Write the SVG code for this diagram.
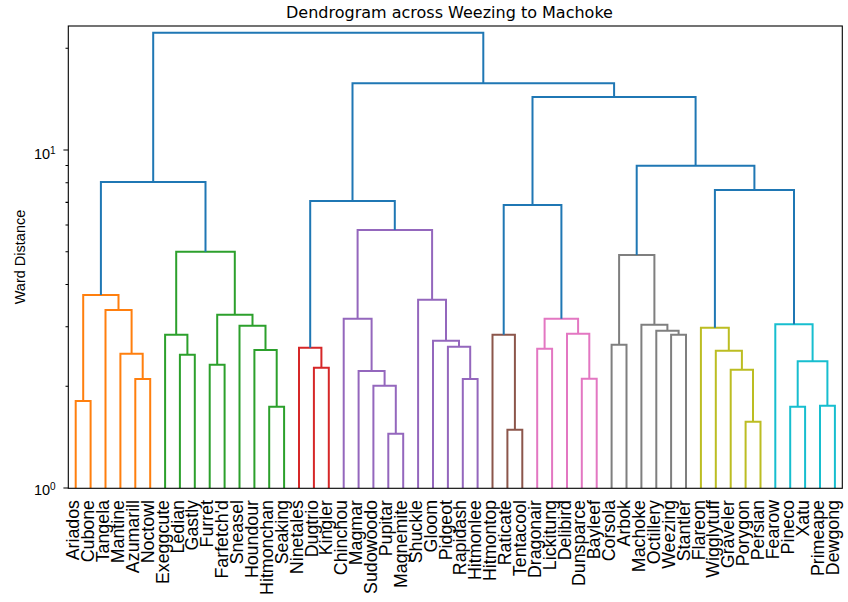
<svg xmlns="http://www.w3.org/2000/svg" width="848" height="602" viewBox="0 0 848 602">
<style>
.l{fill:none;stroke-width:2;stroke-linecap:butt;stroke-linejoin:miter}
.c0{stroke:#1f77b4}.c1{stroke:#ff7f0e}.c2{stroke:#2ca02c}.c3{stroke:#d62728}.c4{stroke:#9467bd}
.c5{stroke:#8c564b}.c6{stroke:#e377c2}.c7{stroke:#7f7f7f}.c8{stroke:#bcbd22}.c9{stroke:#17becf}
.lab{font-family:"Liberation Sans",Arial,sans-serif;font-size:17.8px;fill:#000;text-anchor:end}
.tk{stroke:#000;stroke-width:1.1}
.tl{font-family:"DejaVu Sans",sans-serif;fill:#000}
.yt{font-family:"Liberation Sans",Arial,sans-serif;fill:#000}
</style>
<rect x="0" y="0" width="848" height="602" fill="#fff"/>
<text class="tl" x="449.5" y="18.3" font-size="16" text-anchor="middle">Dendrogram across Weezing to Machoke</text>
<text transform="translate(25,257) rotate(-90)" font-family="Liberation Sans, Arial, sans-serif" font-size="14.5" text-anchor="middle">Ward Distance</text>
<g id="axes">
<path class="tk" d="M68.3,150H63.4M68.3,488H63.4M68.3,386.3H65.5M68.3,326.7H65.5M68.3,284.5H65.5M68.3,251.7H65.5M68.3,225H65.5M68.3,202.4H65.5M68.3,182.8H65.5M68.3,165.5H65.5M68.3,48.3H65.5"/>
<text class="yt" x="34" y="158.5" font-size="14.5">10</text><text class="yt" x="50" y="153.5" font-size="10">1</text>
<text class="yt" x="34" y="495.3" font-size="14.5">10</text><text class="yt" x="50" y="490.3" font-size="10">0</text>
</g>
<g id="connectors">
<path class="l c1" d="M75.7,488V401H90.6V488"/>
<path class="l c1" d="M135.3,488V379H150.2V488"/>
<path class="l c1" d="M120.4,488V353.7H142.7V379"/>
<path class="l c1" d="M105.5,488V310H131.6V353.7"/>
<path class="l c1" d="M83.2,401V295H118.5V310"/>
<path class="l c2" d="M179.9,488V354.7H194.8V488"/>
<path class="l c2" d="M165.1,488V334.7H187.4V354.7"/>
<path class="l c2" d="M209.7,488V364.7H224.6V488"/>
<path class="l c2" d="M269.2,488V406.7H284.1V488"/>
<path class="l c2" d="M254.4,488V350H276.7V406.7"/>
<path class="l c2" d="M239.5,488V325.7H265.5V350"/>
<path class="l c2" d="M217.2,364.7V314.7H252.5V325.7"/>
<path class="l c2" d="M176.2,334.7V251.7H234.8V314.7"/>
<path class="l c0" d="M100.9,295V182H205.5V251.7"/>
<path class="l c3" d="M313.9,488V367.7H328.8V488"/>
<path class="l c3" d="M299,488V347.7H321.4V367.7"/>
<path class="l c4" d="M388.3,488V433.7H403.2V488"/>
<path class="l c4" d="M373.4,488V385.7H395.8V433.7"/>
<path class="l c4" d="M358.6,488V371H384.6V385.7"/>
<path class="l c4" d="M343.7,488V318.7H371.6V371"/>
<path class="l c4" d="M462.8,488V379H477.6V488"/>
<path class="l c4" d="M447.9,488V346.7H470.2V379"/>
<path class="l c4" d="M433,488V340.7H459V346.7"/>
<path class="l c4" d="M418.1,488V299.7H446V340.7"/>
<path class="l c4" d="M357.6,318.7V230H432.1V299.7"/>
<path class="l c0" d="M310.2,347.7V201H394.8V230"/>
<path class="l c5" d="M507.4,488V429.7H522.3V488"/>
<path class="l c5" d="M492.5,488V334.7H514.9V429.7"/>
<path class="l c6" d="M537.2,488V348.7H552.1V488"/>
<path class="l c6" d="M581.8,488V378.7H596.7V488"/>
<path class="l c6" d="M567,488V333.7H589.3V378.7"/>
<path class="l c6" d="M544.6,348.7V318.7H578.1V333.7"/>
<path class="l c0" d="M503.7,334.7V205H561.4V318.7"/>
<path class="l c7" d="M611.6,488V344.7H626.5V488"/>
<path class="l c7" d="M671.1,488V334.7H686V488"/>
<path class="l c7" d="M656.3,488V330.7H678.6V334.7"/>
<path class="l c7" d="M641.4,488V324.7H667.4V330.7"/>
<path class="l c7" d="M619.1,344.7V255H654.4V324.7"/>
<path class="l c8" d="M745.6,488V421.7H760.5V488"/>
<path class="l c8" d="M730.7,488V369.7H753V421.7"/>
<path class="l c8" d="M715.8,488V350.7H741.9V369.7"/>
<path class="l c8" d="M700.9,488V327.7H728.8V350.7"/>
<path class="l c9" d="M790.2,488V406.7H805.1V488"/>
<path class="l c9" d="M820,488V405.7H834.9V488"/>
<path class="l c9" d="M797.7,406.7V361.3H827.4V405.7"/>
<path class="l c9" d="M775.3,488V324.3H812.6V361.3"/>
<path class="l c0" d="M714.9,327.7V190H794V324.3"/>
<path class="l c0" d="M636.7,255V165.7H754.4V190"/>
<path class="l c0" d="M532.5,205V97H695.6V165.7"/>
<path class="l c0" d="M352.5,201V83.3H614.1V97"/>
<path class="l c0" d="M153.2,182V32.7H483.3V83.3"/>
</g>
<rect x="68.3" y="26" width="774" height="462.3" fill="none" stroke="#000" stroke-width="1.1"/>
<g id="leaf-Ariados"><text class="lab" transform="translate(79.3,500) rotate(-90)">Ariados</text></g>
<g id="leaf-Cubone"><text class="lab" transform="translate(94.2,500) rotate(-90)">Cubone</text></g>
<g id="leaf-Tangela"><text class="lab" transform="translate(109.1,500) rotate(-90)">Tangela</text></g>
<g id="leaf-Mantine"><text class="lab" transform="translate(124,500) rotate(-90)">Mantine</text></g>
<g id="leaf-Azumarill"><text class="lab" transform="translate(138.9,500) rotate(-90)">Azumarill</text></g>
<g id="leaf-Noctowl"><text class="lab" transform="translate(153.8,500) rotate(-90)">Noctowl</text></g>
<g id="leaf-Exeggcute"><text class="lab" transform="translate(168.7,500) rotate(-90)">Exeggcute</text></g>
<g id="leaf-Ledian"><text class="lab" transform="translate(183.5,500) rotate(-90)">Ledian</text></g>
<g id="leaf-Gastly"><text class="lab" transform="translate(198.4,500) rotate(-90)">Gastly</text></g>
<g id="leaf-Furret"><text class="lab" transform="translate(213.3,500) rotate(-90)">Furret</text></g>
<g id="leaf-Farfetchd"><text class="lab" transform="translate(228.2,500) rotate(-90)">Farfetch'd</text></g>
<g id="leaf-Sneasel"><text class="lab" transform="translate(243.1,500) rotate(-90)">Sneasel</text></g>
<g id="leaf-Houndour"><text class="lab" transform="translate(258,500) rotate(-90)">Houndour</text></g>
<g id="leaf-Hitmonchan"><text class="lab" transform="translate(272.9,500) rotate(-90)">Hitmonchan</text></g>
<g id="leaf-Seaking"><text class="lab" transform="translate(287.7,500) rotate(-90)">Seaking</text></g>
<g id="leaf-Ninetales"><text class="lab" transform="translate(302.6,500) rotate(-90)">Ninetales</text></g>
<g id="leaf-Dugtrio"><text class="lab" transform="translate(317.5,500) rotate(-90)">Dugtrio</text></g>
<g id="leaf-Kingler"><text class="lab" transform="translate(332.4,500) rotate(-90)">Kingler</text></g>
<g id="leaf-Chinchou"><text class="lab" transform="translate(347.3,500) rotate(-90)">Chinchou</text></g>
<g id="leaf-Magmar"><text class="lab" transform="translate(362.2,500) rotate(-90)">Magmar</text></g>
<g id="leaf-Sudowoodo"><text class="lab" transform="translate(377,500) rotate(-90)">Sudowoodo</text></g>
<g id="leaf-Pupitar"><text class="lab" transform="translate(391.9,500) rotate(-90)">Pupitar</text></g>
<g id="leaf-Magnemite"><text class="lab" transform="translate(406.8,500) rotate(-90)">Magnemite</text></g>
<g id="leaf-Shuckle"><text class="lab" transform="translate(421.7,500) rotate(-90)">Shuckle</text></g>
<g id="leaf-Gloom"><text class="lab" transform="translate(436.6,500) rotate(-90)">Gloom</text></g>
<g id="leaf-Pidgeot"><text class="lab" transform="translate(451.5,500) rotate(-90)">Pidgeot</text></g>
<g id="leaf-Rapidash"><text class="lab" transform="translate(466.4,500) rotate(-90)">Rapidash</text></g>
<g id="leaf-Hitmonlee"><text class="lab" transform="translate(481.2,500) rotate(-90)">Hitmonlee</text></g>
<g id="leaf-Hitmontop"><text class="lab" transform="translate(496.1,500) rotate(-90)">Hitmontop</text></g>
<g id="leaf-Raticate"><text class="lab" transform="translate(511,500) rotate(-90)">Raticate</text></g>
<g id="leaf-Tentacool"><text class="lab" transform="translate(525.9,500) rotate(-90)">Tentacool</text></g>
<g id="leaf-Dragonair"><text class="lab" transform="translate(540.8,500) rotate(-90)">Dragonair</text></g>
<g id="leaf-Lickitung"><text class="lab" transform="translate(555.7,500) rotate(-90)">Lickitung</text></g>
<g id="leaf-Delibird"><text class="lab" transform="translate(570.6,500) rotate(-90)">Delibird</text></g>
<g id="leaf-Dunsparce"><text class="lab" transform="translate(585.4,500) rotate(-90)">Dunsparce</text></g>
<g id="leaf-Bayleef"><text class="lab" transform="translate(600.3,500) rotate(-90)">Bayleef</text></g>
<g id="leaf-Corsola"><text class="lab" transform="translate(615.2,500) rotate(-90)">Corsola</text></g>
<g id="leaf-Arbok"><text class="lab" transform="translate(630.1,500) rotate(-90)">Arbok</text></g>
<g id="leaf-Machoke"><text class="lab" transform="translate(645,500) rotate(-90)">Machoke</text></g>
<g id="leaf-Octillery"><text class="lab" transform="translate(659.9,500) rotate(-90)">Octillery</text></g>
<g id="leaf-Weezing"><text class="lab" transform="translate(674.7,500) rotate(-90)">Weezing</text></g>
<g id="leaf-Stantler"><text class="lab" transform="translate(689.6,500) rotate(-90)">Stantler</text></g>
<g id="leaf-Flareon"><text class="lab" transform="translate(704.5,500) rotate(-90)">Flareon</text></g>
<g id="leaf-Wigglytuff"><text class="lab" transform="translate(719.4,500) rotate(-90)">Wigglytuff</text></g>
<g id="leaf-Graveler"><text class="lab" transform="translate(734.3,500) rotate(-90)">Graveler</text></g>
<g id="leaf-Porygon"><text class="lab" transform="translate(749.2,500) rotate(-90)">Porygon</text></g>
<g id="leaf-Persian"><text class="lab" transform="translate(764.1,500) rotate(-90)">Persian</text></g>
<g id="leaf-Fearow"><text class="lab" transform="translate(778.9,500) rotate(-90)">Fearow</text></g>
<g id="leaf-Pineco"><text class="lab" transform="translate(793.8,500) rotate(-90)">Pineco</text></g>
<g id="leaf-Xatu"><text class="lab" transform="translate(808.7,500) rotate(-90)">Xatu</text></g>
<g id="leaf-Primeape"><text class="lab" transform="translate(823.6,500) rotate(-90)">Primeape</text></g>
<g id="leaf-Dewgong"><text class="lab" transform="translate(838.5,500) rotate(-90)">Dewgong</text></g>
</svg>
